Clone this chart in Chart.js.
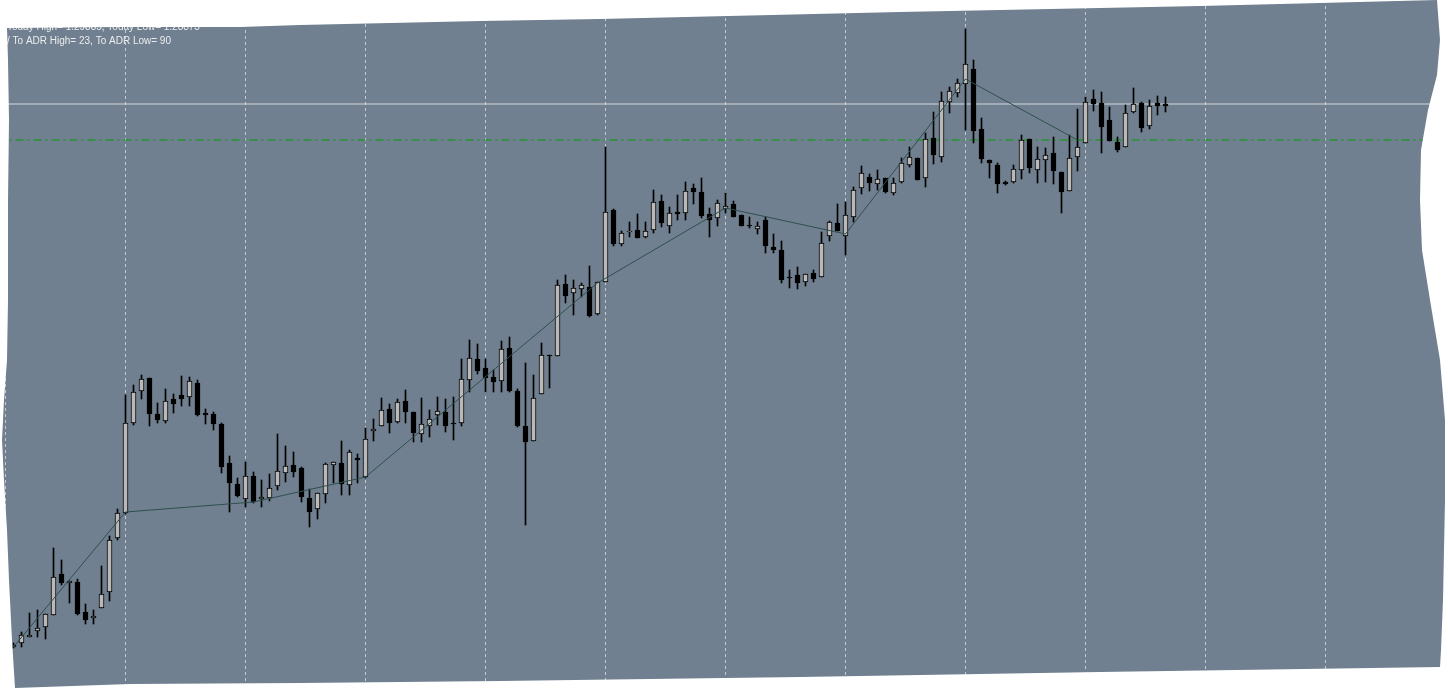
<!DOCTYPE html>
<html>
<head>
<meta charset="utf-8">
<script src="https://cdn.jsdelivr.net/npm/chart.js@4.4.0/dist/chart.umd.min.js"></script>
<style>
html, body { margin: 0; padding: 0; background: #ffffff; }
#divChartCandles { width: 1448px; height: 689px; }
</style>
</head>
<body>
<div id="divChartCandles"><canvas id="chartCandles" width="1448" height="689"></canvas></div>
<script>
// price in points, one array per OHLC field, index = bar number
var openPts = [
    53,57,63,69,73,85,126,117,118,88,
    82,92,108,162,187,277,309,322,286,279,
    301,305,303,317,287,286,276,237,216,201,
    224,201,202,214,227,235,232,202,191,206,
    235,237,215,242,223,269,274,291,278,299,
    288,266,274,285,288,276,277,320,341,332,
    323,319,352,309,274,259,306,344,344,416,
    407,411,413,386,418,490,456,468,470,463,
    470,499,474,488,487,512,508,486,482,491,
    496,485,474,471,480,453,450,422,425,418,
    427,423,464,477,464,483,512,523,516,522,
    507,518,535,542,522,562,543,598,607,616,
    631,571,540,535,518,518,530,561,530,540,
    547,528,509,543,557,601,597,580,558,553,
    588,597,574,597,596
];
var highPts = [
    57,68,87,90,86,152,140,119,121,96,
    90,134,164,191,305,315,325,322,297,311,
    306,324,323,320,291,288,277,244,222,238,
    228,220,226,266,254,248,233,211,207,237,
    238,259,250,246,272,281,302,296,301,310,
    288,302,290,303,301,303,341,360,356,341,
    330,359,363,311,337,325,357,345,420,425,
    420,417,434,418,553,491,469,478,486,478,
    510,505,493,505,518,516,522,492,500,507,
    499,485,483,478,483,466,459,430,433,426,
    430,468,479,496,498,513,534,526,530,522,
    522,542,553,542,567,588,608,613,621,671,
    640,582,540,537,519,535,565,561,553,552,
    563,528,565,591,603,610,608,593,563,595,
    612,598,600,604,603
];
var lowPts = [
    52,53,63,63,61,85,115,97,85,76,
    76,92,99,160,186,275,301,274,277,277,
    287,294,294,284,276,270,227,188,203,193,
    197,193,199,210,218,223,198,173,181,197,
    217,205,205,217,222,259,274,267,277,277,
    258,258,263,275,268,260,274,308,326,308,
    308,308,308,273,175,259,306,312,344,397,
    385,403,383,385,418,454,454,463,462,462,
    467,473,467,480,480,496,482,463,474,487,
    483,474,472,466,447,447,417,412,411,414,
    418,423,459,469,445,478,506,509,510,507,
    505,517,533,520,513,536,538,587,603,570,
    557,537,522,507,515,517,521,527,517,518,
    516,487,509,529,557,589,547,559,548,553,
    587,568,571,585,588
];
var closePts = [
    55,65,65,72,86,123,117,119,86,80,
    84,106,160,187,277,308,321,286,280,299,
    296,301,319,285,285,276,233,217,204,224,
    198,203,212,229,234,228,203,188,207,236,
    238,216,248,240,261,271,290,277,298,288,
    267,276,281,289,274,276,321,342,329,322,
    318,351,309,274,258,302,345,344,415,404,
    412,415,384,418,488,456,467,469,462,469,
    498,477,487,486,509,508,484,480,497,494,
    483,474,474,474,454,450,420,422,417,426,
    421,457,478,469,485,510,527,517,521,508,
    517,537,543,520,561,545,599,609,617,636,
    569,541,537,516,516,531,560,532,541,545,
    529,508,542,553,598,596,573,559,550,587,
    596,572,594,594,594
];

// zigzag turning points (bar number / price)
var zigzagBars = [0, 14, 30, 44, 73, 89, 104, 119, 133];
var zigzagPts = [53, 188, 198, 223, 417, 492, 466, 621, 560];

// horizontal levels
var upperLevel = 596;
var adrLevel = 560;

// vertical grid every 15 bars
var gridBars = [-1, 14, 29, 44, 59, 74, 89, 104, 119, 134, 149, 164, 179];

var infoLines = [
    'Today High= 1.29885, Today Low= 1.28873',
    '/ To ADR High= 23, To ADR Low= 90'
];

var bgColor = '#708090';
var upColor = '#b9b9b9';
var downColor = '#000000';

// torn paper outline of the screenshot
var tornEdge = [
    [7,28],[120,27],[240,27],[300,25],[480,21],[600,19],[900,12],[1200,6],[1320,3],[1437,0],
    [1440,40],[1437,75],[1428,110],[1421,150],[1420,200],[1422,250],[1430,300],[1440,360],
    [1445,420],[1445,500],[1443,600],[1441,650],[1440,667],
    [1100,672],[800,677],[500,681],[300,683],[130,684],[15,688],
    [12,640],[9,580],[7,530],[4,480],[2,440],[4,400],[7,360],[8,300],[8,200],[9,120],[8,60]
];

var bodyData = [], wickData = [];
for (var i = 0; i < openPts.length; i++) {
    bodyData.push({x: i, y: [openPts[i], closePts[i]]});
    wickData.push({x: i, y: [lowPts[i], highPts[i]]});
}
var zigzagData = zigzagBars.map(function(b, i) { return {x: b, y: zigzagPts[i]}; });

var paperPlugin = {
    id: 'paper',
    beforeDraw: function(chart) {
        var c = chart.ctx;
        c.save();
        c.fillStyle = bgColor;
        c.fillRect(0, 0, chart.width, chart.height);
        c.restore();
    },
    afterDatasetsDraw: function(chart) {
        var c = chart.ctx;
        c.save();
        c.fillStyle = '#ececec';
        c.font = '10px "Liberation Sans", Arial, sans-serif';
        c.textBaseline = 'alphabetic';
        c.fillText(infoLines[0], 7, 30);
        c.fillText(infoLines[1], 7, 44);
        c.restore();
    },
    afterDraw: function(chart) {
        var c = chart.ctx;
        c.save();
        c.beginPath();
        c.rect(0, 0, chart.width, chart.height);
        c.moveTo(tornEdge[0][0], tornEdge[0][1]);
        for (var i = 1; i < tornEdge.length; i++) c.lineTo(tornEdge[i][0], tornEdge[i][1]);
        c.closePath();
        c.fillStyle = '#ffffff';
        c.fill('evenodd');
        c.restore();
    }
};

var ctx = document.getElementById('chartCandles');
var myCandleChart = new Chart(ctx, {
    data: {
        datasets: [{
            type: 'line',
            label: 'ZigZag',
            data: zigzagData,
            borderColor: '#2f4f4f',
            borderWidth: 1,
            pointRadius: 0,
            tension: 0,
            order: 1
        }, {
            type: 'bar',
            label: 'Body',
            data: bodyData,
            barThickness: 5,
            minBarLength: 1,
            grouped: false,
            borderWidth: 1,
            borderSkipped: false,
            borderColor: '#000000',
            backgroundColor: function(c) {
                var i = c.dataIndex;
                return closePts[i] > openPts[i] ? upColor : downColor;
            },
            order: 2
        }, {
            type: 'bar',
            label: 'Wick',
            data: wickData,
            barThickness: 1,
            grouped: false,
            borderWidth: 0,
            backgroundColor: '#000000',
            order: 3
        }, {
            type: 'line',
            label: 'Upper',
            data: [{x: -2, y: upperLevel}, {x: 181, y: upperLevel}],
            borderColor: '#d4d7dc',
            borderWidth: 1,
            pointRadius: 0,
            order: 4
        }, {
            type: 'line',
            label: 'ADR',
            data: [{x: -2, y: adrLevel}, {x: 181, y: adrLevel}],
            borderColor: '#00a000',
            borderWidth: 1,
            borderDash: [8, 4, 2, 4],
            pointRadius: 0,
            order: 5
        }]
    },
    options: {
        responsive: false,
        animation: false,
        layout: { padding: 0 },
        plugins: {
            legend: { display: false },
            tooltip: { enabled: false },
            title: { display: false }
        },
        scales: {
            x: {
                type: 'linear',
                min: -1.6875,
                max: 179.3125,
                offset: false,
                border: { display: false, dash: [3, 3] },
                ticks: { display: false },
                afterBuildTicks: function(scale) {
                    scale.ticks = gridBars.map(function(b) { return {value: b}; });
                },
                grid: {
                    offset: false,
                    color: '#c6cad1',
                    lineWidth: 1,
                    drawTicks: false,
                    tickLength: 0
                }
            },
            y: {
                display: false,
                min: 11,
                max: 700
            }
        }
    },
    plugins: [paperPlugin]
});
</script>
</body>
</html>
